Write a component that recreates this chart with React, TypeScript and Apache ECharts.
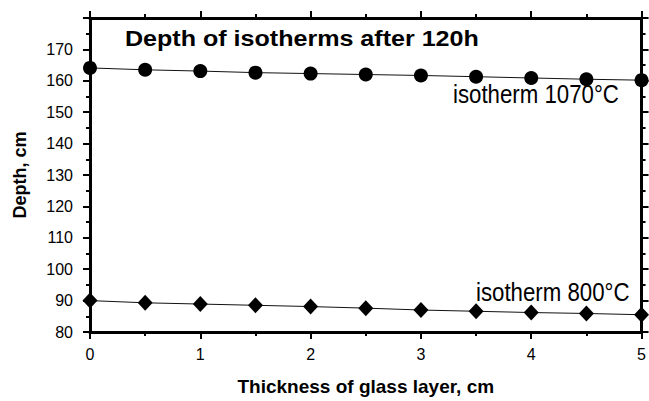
import React, { useEffect, useRef } from "react";
import * as echarts from "echarts";

const thickness = [0, 0.5, 1, 1.5, 2, 2.5, 3, 3.5, 4, 4.5, 5];
const depth1070 = [164.1, 163.5, 163.1, 162.6, 162.3, 162.0, 161.7, 161.3, 160.9, 160.5, 160.2];
const depth800 = [90.0, 89.3, 88.9, 88.5, 88.1, 87.6, 87.0, 86.6, 86.2, 85.9, 85.5];

const titleText = "Depth of isotherms after 120h";
const label1070 = "isotherm 1070°C";
const label800 = "isotherm 800°C";
const xName = "Thickness of glass layer, cm";
const yName = "Depth, cm";

const FONT = "'Liberation Sans', Arial, Helvetica, sans-serif";

export default function App() {
  const ref = useRef<HTMLDivElement>(null);
  useEffect(() => {
    if (!ref.current) return;
    const chart = echarts.init(ref.current, undefined, { renderer: "svg" });
    const tickCommon = {
      axisLine: { show: true, onZero: false, lineStyle: { color: "#000", width: 3 } },
      axisTick: { show: true, inside: false, length: 7, lineStyle: { color: "#000", width: 2 } },
      minorTick: { show: true, splitNumber: 2, length: 4, lineStyle: { color: "#000", width: 2 } },
      splitLine: { show: false },
      minorSplitLine: { show: false },
    };
    chart.setOption({
      animation: false,
      backgroundColor: "#fff",
      textStyle: { fontFamily: FONT },
      grid: { left: 90, right: 7, top: 18, bottom: 67, containLabel: false },
      xAxis: [
        {
          type: "value",
          position: "bottom",
          min: 0,
          max: 5,
          interval: 1,
          ...tickCommon,
          axisLabel: { show: true, color: "#000", fontSize: 16, margin: 14, fontFamily: FONT },
          name: xName,
          nameLocation: "middle",
          nameGap: 45,
          nameTextStyle: { color: "#000", fontSize: 19, fontWeight: "bold", fontFamily: FONT },
        },
        {
          type: "value",
          position: "top",
          min: 0,
          max: 5,
          interval: 1,
          ...tickCommon,
          axisLabel: { show: false },
        },
      ],
      yAxis: [
        {
          type: "value",
          position: "left",
          min: 80,
          max: 180,
          interval: 10,
          ...tickCommon,
          axisLabel: { show: true, color: "#000", fontSize: 16, margin: 17, showMaxLabel: false, fontFamily: FONT },
          name: yName,
          nameLocation: "middle",
          nameGap: 61,
          nameRotate: 90,
          nameTextStyle: { color: "#000", fontSize: 18, fontWeight: "bold", fontFamily: FONT },
        },
        {
          type: "value",
          position: "right",
          min: 80,
          max: 180,
          interval: 10,
          ...tickCommon,
          axisLabel: { show: false },
        },
      ],
      series: [
        {
          type: "line",
          name: label1070,
          data: thickness.map((t, i) => [t, depth1070[i]]),
          symbol: "circle",
          symbolSize: 14,
          itemStyle: { color: "#000" },
          lineStyle: { color: "#111", width: 1 },
          clip: false,
        },
        {
          type: "line",
          name: label800,
          data: thickness.map((t, i) => [t, depth800[i]]),
          symbol: "diamond",
          symbolSize: [15, 16],
          itemStyle: { color: "#000" },
          lineStyle: { color: "#111", width: 1 },
          clip: false,
        },
      ],
      graphic: [
        {
          type: "text",
          x: 125,
          y: 39,
          scaleX: 1.14,
          style: {
            text: titleText,
            fill: "#000",
            font: `bold 22px ${FONT}`,
            align: "left",
            verticalAlign: "middle",
          },
        },
        {
          type: "text",
          x: 453,
          y: 95,
          scaleX: 0.89,
          style: {
            text: label1070,
            fill: "#000",
            font: `25px ${FONT}`,
            align: "left",
            verticalAlign: "middle",
          },
        },
        {
          type: "text",
          x: 476,
          y: 293,
          scaleX: 0.89,
          style: {
            text: label800,
            fill: "#000",
            font: `25px ${FONT}`,
            align: "left",
            verticalAlign: "middle",
          },
        },
      ],
    });
    return () => chart.dispose();
  }, []);
  return <div ref={ref} style={{ width: 649, height: 401, position: "absolute", left: 0, top: 0 }} />;
}
